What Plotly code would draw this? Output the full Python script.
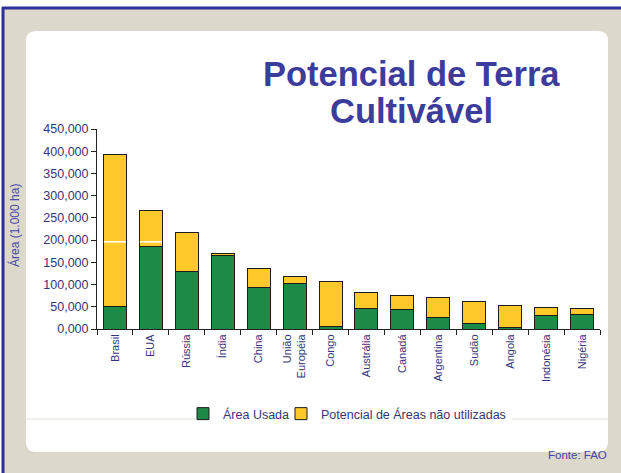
import plotly.graph_objects as go

paises = ["Brasil", "EUA", "Rússia", "Índia", "China", "União<br>Européia", "Congo",
          "Austrália", "Canadá", "Argentina", "Sudão", "Angola", "Indonésia", "Nigéria"]
total = [393000, 267000, 218000, 169000, 137000, 118500, 108000,
         83000, 76500, 70000, 63000, 54000, 49000, 47000]
area_usada = [50000, 186000, 130500, 166500, 94500, 102000, 6500,
              45500, 45000, 26000, 13500, 3000, 30000, 32000]
potencial = [t - u for t, u in zip(total, area_usada)]
linha_branca_valor = 196000
linha_branca_paises = ["Brasil", "EUA"]

y_ticks = [0, 50000, 100000, 150000, 200000, 250000, 300000, 350000, 400000, 450000]
y_tick_labels = ["0,000", "50,000", "100,000", "150,000", "200,000",
                 "250,000", "300,000", "350,000", "400,000", "450,000"]

titulo_linhas = ["Potencial de Terra", "Cultivável"]

W, H = 621, 473
L, R, T, B = 97, 21, 129, 144
PW, PH = W - L - R, H - T - B


def px2x(px):
    return (px - L) / PW


def px2y(py):
    return (H - B - py) / PH


FONT = "Liberation Sans, Arial, sans-serif"
NAVY = "#35357a"
GREEN = "#1e8a48"
YELLOW = "#ffc929"

fig = go.Figure()
fig.add_trace(go.Bar(x=paises, y=area_usada, name="Área Usada", legend="legend",
                     marker=dict(color=GREEN, line=dict(color="#1c1c1c", width=1))))
fig.add_trace(go.Bar(x=paises, y=potencial, name="Potencial de Áreas não utilizadas",
                     legend="legend2",
                     marker=dict(color=YELLOW, line=dict(color="#1c1c1c", width=1))))

shapes = []
# beige background with blue border
shapes.append(dict(type="rect", xref="paper", yref="paper",
                   x0=px2x(2), x1=px2x(W + 2), y0=px2y(H + 2), y1=px2y(7),
                   fillcolor="#dcd8cc", line=dict(width=0), layer="below"))
shapes.append(dict(type="line", xref="paper", yref="paper",
                   x0=px2x(3), x1=px2x(3), y0=px2y(H + 2), y1=px2y(7),
                   line=dict(color="#2f2f9c", width=3), layer="below"))
shapes.append(dict(type="line", xref="paper", yref="paper",
                   x0=px2x(2), x1=px2x(W + 2), y0=px2y(8), y1=px2y(8),
                   line=dict(color="#2f2f9c", width=3), layer="below"))

# white rounded panel
x0, x1, y0, y1, r = 26, 608, 31, 452, 10
path = (f"M {px2x(x0 + r)},{px2y(y0)} L {px2x(x1 - r)},{px2y(y0)} "
        f"Q {px2x(x1)},{px2y(y0)} {px2x(x1)},{px2y(y0 + r)} "
        f"L {px2x(x1)},{px2y(y1 - r)} Q {px2x(x1)},{px2y(y1)} {px2x(x1 - r)},{px2y(y1)} "
        f"L {px2x(x0 + r)},{px2y(y1)} Q {px2x(x0)},{px2y(y1)} {px2x(x0)},{px2y(y1 - r)} "
        f"L {px2x(x0)},{px2y(y0 + r)} Q {px2x(x0)},{px2y(y0)} {px2x(x0 + r)},{px2y(y0)} Z")
shapes.append(dict(type="path", xref="paper", yref="paper", path=path,
                   fillcolor="white", line=dict(width=0), layer="below"))
# thin line either side of the legend
for a, b in [(x0, 197), (512, x1)]:
    shapes.append(dict(type="line", xref="paper", yref="paper",
                       x0=px2x(a), x1=px2x(b), y0=px2y(419), y1=px2y(419),
                       line=dict(color="#e4e2dc", width=1), layer="below"))
# white line across the first bars
for p in linha_branca_paises:
    i = paises.index(p)
    shapes.append(dict(type="line", xref="x", yref="y",
                       x0=i - 0.31, x1=i + 0.31, y0=linha_branca_valor, y1=linha_branca_valor,
                       line=dict(color="white", width=1.5), layer="above"))

annotations = [
    dict(text="Área (1.000 ha)", xref="paper", yref="paper", x=px2x(14), y=px2y(226),
         textangle=-90, showarrow=False, xanchor="center", yanchor="middle",
         font=dict(family=FONT, size=12, color="#4848a8")),
    dict(text="Fonte: FAO", xref="paper", yref="paper", x=px2x(609), y=px2y(455),
         showarrow=False, xanchor="right", yanchor="middle",
         font=dict(family=FONT, size=11.5, color="#4545a8")),
]
for linha, yc in zip(titulo_linhas, [74, 111]):
    annotations.append(dict(text=f"<b>{linha}</b>", xref="paper", yref="paper",
                            x=px2x(411), y=px2y(yc), showarrow=False,
                            xanchor="center", yanchor="middle",
                            font=dict(family=FONT, size=34.5, color="#3c3c9c")))

leg_common = dict(orientation="h", yanchor="middle", xanchor="left",
                  bgcolor="rgba(0,0,0,0)",
                  font=dict(family=FONT, size=12.5, color=NAVY), itemwidth=30)
fig.update_layout(
    width=W, height=H,
    margin=dict(l=L, r=R, t=T, b=B),
    paper_bgcolor="white", plot_bgcolor="white",
    barmode="stack", bargap=0.36,
    showlegend=True,
    legend=dict(x=px2x(183), y=px2y(414), **leg_common),
    legend2=dict(x=px2x(281), y=px2y(414), **leg_common),
    shapes=shapes, annotations=annotations,
    font=dict(family=FONT, color=NAVY),
)
fig.update_xaxes(type="category", showline=True, linecolor="#222", linewidth=1,
                 ticks="outside", tickson="boundaries", ticklen=5, tickcolor="#222",
                 tickangle=-90, tickfont=dict(family=FONT, size=11, color=NAVY),
                 showgrid=False)
fig.update_yaxes(range=[0, 450000], tickvals=y_ticks, ticktext=y_tick_labels,
                 showline=True, linecolor="#222", linewidth=1, ticks="outside",
                 ticklen=5, tickcolor="#222", showgrid=False, zeroline=False,
                 tickfont=dict(family=FONT, size=12.5, color=NAVY))

fig.write_html("out.html", config={"displayModeBar": False},
               post_script="document.body.style.margin='0';document.body.style.overflow='hidden';")
